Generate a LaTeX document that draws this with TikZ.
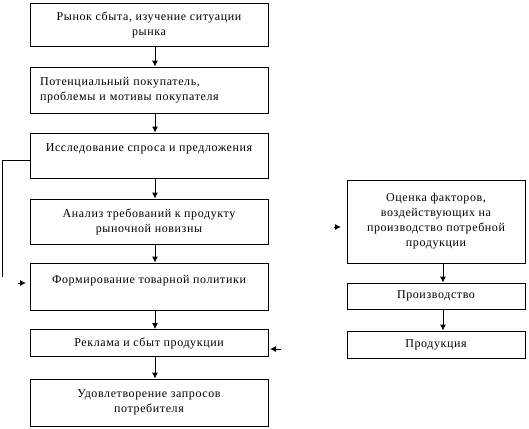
\documentclass[tikz,border=0pt]{standalone}
\usepackage{fontspec}
\setmainfont{Liberation Serif}[LetterSpace=5]
\usetikzlibrary{arrows.meta}
\usetikzlibrary{positioning}

\begin{document}
\begin{tikzpicture}[x=1pt,y=-1pt]
	 \tikzstyle{blk}=[draw,line width=0.9pt,minimum width=238pt,inner sep=1pt,align=center,font=\fontsize{12}{15}\selectfont]
	 \tikzstyle{rblk}=[blk,minimum width=178pt]
	 \tikzstyle{leftblk}=[blk,align=left,text width=218pt,inner xsep=10pt]
	 \tikzstyle{edge} = [draw,line width=0.9pt,-{Latex[length=6pt,width=6pt]}]
	 \tikzstyle{line} = [draw,line width=0.9pt]
	 \useasboundingbox (0,0) rectangle (529,428);
	 % left column
	 \node[blk,minimum height=43pt] (b1) at (149,24.5) {Рынок сбыта, изучение ситуации\\рынка};
	 \node[leftblk,minimum height=46pt] (b2) at (149,90) {Потенциальный покупатель,\\проблемы и мотивы покупателя};
	 \node[blk,minimum height=45pt] (b3) at (149,155.5) {Исследование спроса и предложения\\\mbox{}};
	 \node[blk,minimum height=45pt] (b4) at (149,221.5) {Анализ требований к продукту\\рыночной новизны};
	 \node[blk,minimum height=47pt] (b5) at (149,286.5) {Формирование товарной политики\\\mbox{}};
	 \node[blk,minimum height=27pt] (b6) at (149,343) {Реклама и сбыт продукции};
	 \node[blk,minimum height=47pt] (b7) at (149,402.5) {Удовлетворение запросов\\потребителя};
	 % right column
	 \node[rblk,minimum height=83pt] (r1) at (436,221.5) {Оценка факторов,\\воздействующих на\\производство потребной\\продукции};
	 \node[rblk,minimum height=26pt] (r2) at (436,296) {Производство};
	 \node[rblk,minimum height=27pt] (r3) at (436,344.5) {Продукция};
	 \draw[edge] ([xshift=6pt]b1.south) -- ([xshift=6pt]b2.north);
	 \draw[edge] ([xshift=6pt]b2.south) -- ([xshift=6pt]b3.north);
	 \draw[edge] ([xshift=6pt]b3.south) -- ([xshift=6pt]b4.north);
	 \draw[edge] ([xshift=6pt]b4.south) -- ([xshift=6pt]b5.north);
	 \draw[edge] ([xshift=6pt]b5.south) -- ([xshift=6pt]b6.north);
	 \draw[edge] ([xshift=6pt]b6.south) -- ([xshift=6pt]b7.north);
	 \draw[edge] ([xshift=7pt]r1.south) -- ([xshift=7pt]r2.north);
	 \draw[edge] ([xshift=7pt]r2.south) -- ([xshift=7pt]r3.north);
	 % loose ends
	 \coordinate (fb) at (2,277);
	 \draw[line] ([yshift=-4.8pt]b3.west) -| (fb);
	 \coordinate (p1) at (18,283);
	 \coordinate (p2) at (26,283);
	 \coordinate (q1) at (281,349);
	 \coordinate (q2) at (270,349);
	 \coordinate (s1) at (334,227);
	 \coordinate (s2) at (341,227);
	 \draw[edge] (p1) -- (p2);
	 \draw[edge] (q1) -- (q2);
	 \draw[edge] (s1) -- (s2);
\end{tikzpicture}
\end{document}
